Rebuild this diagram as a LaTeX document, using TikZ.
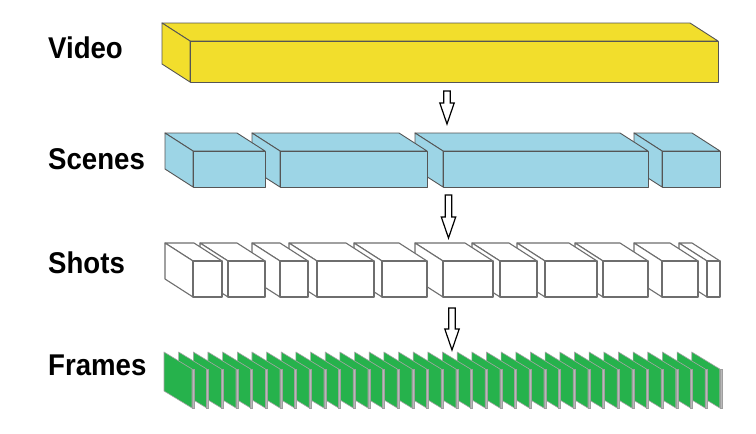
\documentclass[tikz,border=0pt]{standalone}
\usepackage{fontspec}
\setmainfont{Liberation Sans}
\usetikzlibrary{calc}
\definecolor{vyellow}{RGB}{242,222,44}
\definecolor{sblue}{RGB}{157,213,230}
\definecolor{fgreen}{RGB}{38,178,76}
\definecolor{edgegray}{RGB}{85,85,85}
\definecolor{shotgray}{RGB}{110,110,110}
\newcommand{\cuboid}[6]{%
  \filldraw[#6,fill=#5] (#1,#3) -- (#1-28,#3-18) -- (#2-28,#3-18) -- (#2,#3) -- cycle;
  \filldraw[#6,fill=#5] (#1,#3) -- (#1-28,#3-18) -- (#1-28,#4-18) -- (#1,#4) -- cycle;
  \filldraw[#6,fill=#5] (#1,#3) rectangle (#2,#4);}
\begin{document}
\begin{tikzpicture}[x=1pt,y=-1pt,
  boxline/.style={draw=edgegray,line width=0.9pt,line join=round},
  shotline/.style={draw=shotgray,line width=1.1pt,line join=round},
  plate/.style={draw=gray!70,line width=0.6pt,fill=fgreen,line join=round},
  platefront/.style={draw=gray!75,line width=0.4pt,fill=gray!55},
  label/.style={anchor=base west,inner sep=0pt,font=\fontsize{30}{32}\selectfont\bfseries},
  blockarrow/.style={draw=black,line width=1.2pt,fill=white,line join=miter,
    to path={let \p1=(\tikztostart), \p2=(\tikztotarget) in
      (\x1-3.2pt,\y1) -- (\x1+3.2pt,\y1) -- (\x1+3.2pt,\y2+21pt) -- (\x1+7.2pt,\y2+21pt)
      -- (\x2,\y2) -- (\x1-7.2pt,\y2+21pt) -- (\x1-3.2pt,\y2+21pt) -- cycle}}]
\useasboundingbox (0,0) rectangle (756,434);
\fill[white] (0,0) rectangle (756,434);

% labels
\node[label] (lvideo) at (48,58) {\scalebox{0.92}[1]{Video}};
\node[label] (lscenes) at (48,169) {\scalebox{0.92}[1]{Scenes}};
\node[label] (lshots) at (48,273) {\scalebox{0.92}[1]{Shots}};
\node[label] (lframes) at (48,375) {\scalebox{0.92}[1]{Frames}};

% video
\cuboid{190}{718}{41}{82}{vyellow}{boxline}

% scenes (right to left)
\cuboid{662}{720}{151}{187}{sblue}{boxline}
\cuboid{443}{648}{151}{187}{sblue}{boxline}
\cuboid{280}{427}{151}{187}{sblue}{boxline}
\cuboid{193}{265}{151}{187}{sblue}{boxline}

% shots (right to left)
\cuboid{707}{720}{261}{297}{white}{shotline}
\cuboid{662}{698}{261}{297}{white}{shotline}
\cuboid{603}{648}{261}{297}{white}{shotline}
\cuboid{545}{597}{261}{297}{white}{shotline}
\cuboid{500}{537}{261}{297}{white}{shotline}
\cuboid{443}{493}{261}{297}{white}{shotline}
\cuboid{382}{427}{261}{297}{white}{shotline}
\cuboid{317}{374}{261}{297}{white}{shotline}
\cuboid{280}{308}{261}{297}{white}{shotline}
\cuboid{228}{265}{261}{297}{white}{shotline}
\cuboid{193}{222}{261}{297}{white}{shotline}

% frames (right to left)
\foreach \i in {36,35,...,0}{
  \pgfmathsetmacro\xa{164+14.66*\i}
  \filldraw[plate] (\xa,352) -- (\xa+28,369) -- (\xa+28,408) -- (\xa,391) -- cycle;
  \filldraw[platefront] (\xa+28,369) rectangle (\xa+30,408);
}

% arrows
\coordinate (a1s) at (447,91);  \coordinate (a1e) at (447,124);
\coordinate (a2s) at (448.5,195); \coordinate (a2e) at (448.5,238);
\coordinate (a3s) at (452,308); \coordinate (a3e) at (452,350);
\draw[blockarrow] (a1s) to (a1e);
\draw[blockarrow] (a2s) to (a2e);
\draw[blockarrow] (a3s) to (a3e);
\end{tikzpicture}
\end{document}
